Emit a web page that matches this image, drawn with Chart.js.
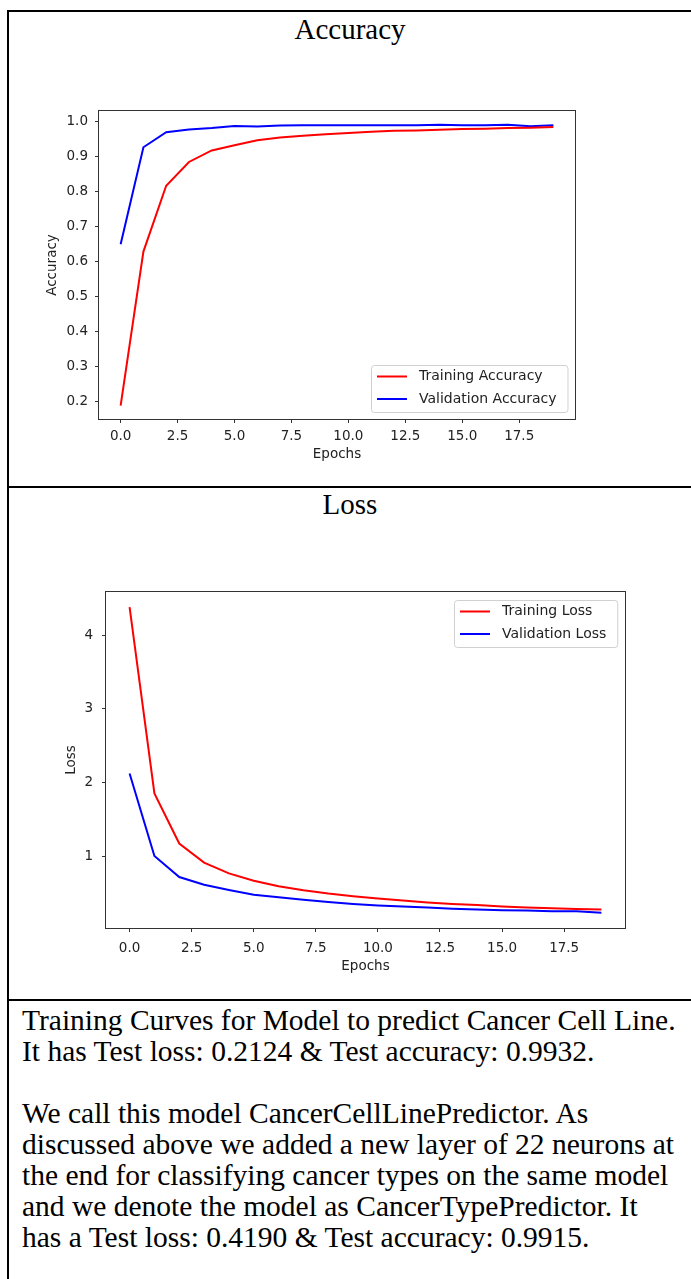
<!DOCTYPE html>
<html>
<head>
<meta charset="utf-8">
<script src="https://cdn.jsdelivr.net/npm/chart.js@4"></script>
<style>
  body { margin: 0; background: #fff; width: 691px; height: 1279px; position: relative; overflow: hidden; }
  .rule { position: absolute; background: #000; }
  .title { position: absolute; left: 9px; right: 0; text-align: center; font-family: "Liberation Serif", serif; font-size: 29px; line-height: 29px; color: #000; }
  #caption { position: absolute; left: 22px; top: 1005px; font-family: "Liberation Serif", serif; font-size: 29.5px; line-height: 31px; white-space: nowrap; color: #000; }
  canvas { position: absolute; left: 0; }
</style>
</head>
<body>
<div class="rule" style="left:7px;top:10px;width:684px;height:2px"></div>
<div class="rule" style="left:7px;top:10px;width:2px;height:1269px"></div>
<div class="rule" style="left:7px;top:486px;width:684px;height:2px"></div>
<div class="rule" style="left:7px;top:999px;width:684px;height:2px"></div>

<div class="title" style="top:15px">Accuracy</div>
<div class="title" style="top:490px">Loss</div>

<canvas id="accChart" width="640" height="380" style="top:90px"></canvas>
<canvas id="lossChart" width="691" height="420" style="top:570px"></canvas>

<div id="caption">Training Curves for Model to predict Cancer Cell Line.<br>It has Test loss: 0.2124 &amp; Test accuracy: 0.9932.<br><br>We call this model CancerCellLinePredictor. As<br>discussed above we added a new layer of 22 neurons at<br>the end for classifying cancer types on the same model<br>and we denote the model as CancerTypePredictor. It<br>has a Test loss: 0.4190 &amp; Test accuracy: 0.9915.</div>

<script>
// data
const epochs = [0, 1, 2, 3, 4, 5, 6, 7, 8, 9, 10, 11, 12, 13, 14, 15, 16, 17, 18, 19];
const trainAcc = [0.187, 0.627, 0.815, 0.883, 0.916, 0.931, 0.945, 0.953, 0.958, 0.962, 0.966, 0.969, 0.972, 0.973, 0.975, 0.977, 0.978, 0.980, 0.981, 0.983];
const valAcc = [0.648, 0.925, 0.968, 0.976, 0.980, 0.986, 0.984, 0.987, 0.988, 0.988, 0.988, 0.988, 0.988, 0.988, 0.989, 0.988, 0.988, 0.989, 0.985, 0.988];
const trainLoss = [4.38, 1.85, 1.17, 0.91, 0.765, 0.665, 0.59, 0.535, 0.49, 0.455, 0.425, 0.395, 0.37, 0.35, 0.335, 0.315, 0.30, 0.29, 0.28, 0.275];
const valLoss = [2.12, 1.00, 0.715, 0.61, 0.54, 0.475, 0.44, 0.405, 0.375, 0.35, 0.33, 0.315, 0.30, 0.285, 0.275, 0.265, 0.26, 0.25, 0.25, 0.23];

const epochTicks = [0, 2.5, 5, 7.5, 10, 12.5, 15, 17.5];
const accTicks = [0.2, 0.3, 0.4, 0.5, 0.6, 0.7, 0.8, 0.9, 1.0];
const lossTicks = [1, 2, 3, 4];

const font = { family: 'DejaVu Sans', size: 13.5 };
const textColor = '#222';

// axes frame on all four sides, like matplotlib
const frame = {
  id: 'frame',
  afterDatasetsDraw(chart) {
    const { ctx, chartArea: a } = chart;
    ctx.save();
    ctx.strokeStyle = '#333';
    ctx.lineWidth = 1;
    ctx.strokeRect(a.left - 0.5, a.top - 0.5, a.right - a.left + 1, a.bottom - a.top + 1);
    ctx.restore();
  }
};

// legend box drawn inside the plot area
const boxLegend = {
  id: 'boxLegend',
  afterDraw(chart, args, opts) {
    const { ctx, chartArea: a } = chart;
    const sets = chart.data.datasets;
    ctx.save();
    ctx.font = '14px "DejaVu Sans"';
    const textW = Math.max(...sets.map(d => ctx.measureText(d.label).width));
    const w = 48 + textW + 11, h = 47;
    const x = Math.round(a.right - 8 - w);
    const y = opts.corner === 'top' ? a.top + 8 : a.bottom - 7 - h;
    ctx.fillStyle = 'rgba(255,255,255,0.8)';
    ctx.strokeStyle = '#d0d0d0';
    ctx.lineWidth = 1;
    ctx.beginPath();
    ctx.roundRect(x + 0.5, y + 0.5, w, h, 3);
    ctx.fill();
    ctx.stroke();
    sets.forEach((d, i) => {
      const cy = y + 11.5 + i * 22.5;
      ctx.strokeStyle = d.borderColor;
      ctx.lineWidth = 2;
      ctx.beginPath();
      ctx.moveTo(x + 6, cy);
      ctx.lineTo(x + 36, cy);
      ctx.stroke();
      ctx.fillStyle = textColor;
      ctx.textBaseline = 'middle';
      ctx.fillText(d.label, x + 48, cy);
    });
    ctx.restore();
  }
};

function points(ys) {
  return epochs.map((e, i) => ({ x: e, y: ys[i] }));
}

function makeChart(id, o) {
  return new Chart(document.getElementById(id), {
    type: 'line',
    data: {
      datasets: [
        { label: o.labels[0], data: points(o.series[0]), borderColor: 'red', borderWidth: 2, pointRadius: 0, tension: 0 },
        { label: o.labels[1], data: points(o.series[1]), borderColor: 'blue', borderWidth: 2, pointRadius: 0, tension: 0 }
      ]
    },
    options: {
      responsive: false,
      animation: false,
      devicePixelRatio: 1,
      layout: { padding: { left: 0, top: o.top, right: o.right, bottom: 0 } },
      plugins: {
        legend: { display: false },
        tooltip: { enabled: false },
        boxLegend: { corner: o.legendCorner }
      },
      scales: {
        x: {
          type: 'linear',
          min: -0.95,
          max: 19.95,
          afterBuildTicks: s => { s.ticks = epochTicks.map(v => ({ value: v })); },
          afterFit: s => { s.height = o.xHeight; },
          ticks: { callback: v => v.toFixed(1), color: textColor, font, padding: o.xPad, maxRotation: 0, autoSkip: false },
          grid: { drawOnChartArea: false, tickLength: 4, color: '#333' },
          border: { display: false },
          title: { display: true, text: 'Epochs', color: textColor, font, padding: { top: 0, bottom: o.xTitlePad } }
        },
        y: {
          type: 'linear',
          min: o.yMin,
          max: o.yMax,
          afterBuildTicks: s => { s.ticks = o.yTicks.map(v => ({ value: v })); },
          afterFit: s => { s.width = o.yWidth; },
          ticks: { callback: o.yFormat, color: textColor, font, padding: o.yPad, autoSkip: false },
          grid: { drawOnChartArea: false, tickLength: 4, color: '#333' },
          border: { display: false },
          title: { display: true, text: o.yTitle, color: textColor, font, padding: { top: o.yTitlePad, bottom: 0 } }
        }
      }
    },
    plugins: [frame, boxLegend]
  });
}

makeChart('accChart', {
  labels: ['Training Accuracy', 'Validation Accuracy'],
  series: [trainAcc, valAcc],
  yTicks: accTicks,
  yFormat: v => v.toFixed(1),
  yMin: 0.1486, yMax: 1.0286,
  yTitle: 'Accuracy',
  top: 21, right: 65, xHeight: 51, yWidth: 99,
  xPad: 5, yPad: 7, xTitlePad: 7, yTitlePad: 44,
  legendCorner: 'bottom'
});

makeChart('lossChart', {
  labels: ['Training Loss', 'Validation Loss'],
  series: [trainLoss, valLoss],
  yTicks: lossTicks,
  yFormat: v => String(v),
  yMin: 0.023, yMax: 4.584,
  yTitle: 'Loss',
  top: 22, right: 66, xHeight: 62, yWidth: 106,
  xPad: 8, yPad: 9, xTitlePad: 15, yTitlePad: 63,
  legendCorner: 'top'
});
</script>
</body>
</html>
